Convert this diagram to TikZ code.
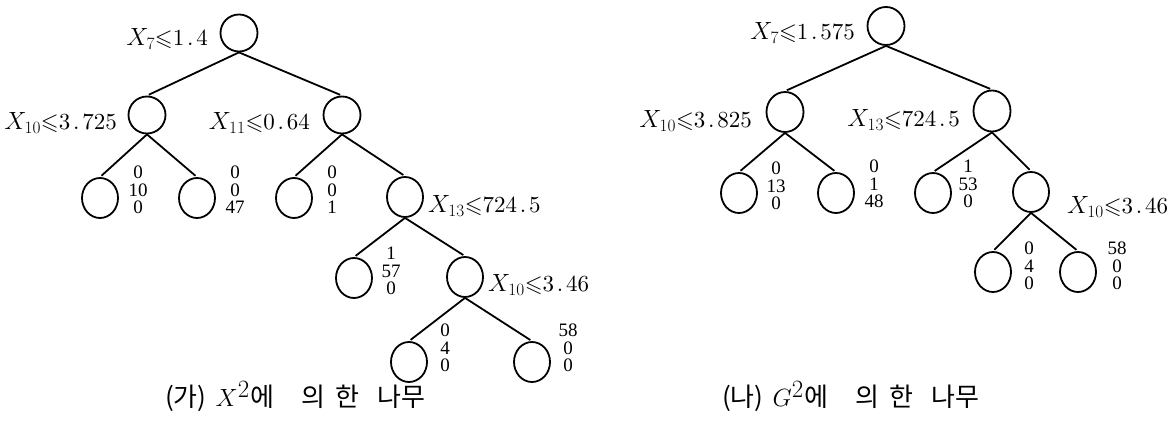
\documentclass[tikz,border=0pt]{standalone}
\usepackage{fontspec}
\usepackage{amssymb}
\newfontfamily\cjk{Noto Sans CJK KR}
\newfontfamily\lmten{lmroman10-regular.otf}
\newfontfamily\numf{Liberation Serif}
\usetikzlibrary{shapes.geometric}
\newcommand\pd{\hspace{0.12em}.\hspace{0.12em}}
\newcommand\cond[2]{$X_{#1}{\leqslant}$#2}
\begin{document}
\begin{tikzpicture}[x=1pt,y=-1pt,
  nd/.style={draw, ellipse, line width=1.8pt, inner sep=0pt, minimum width=37pt, minimum height=37pt},
  lf/.style={nd, minimum width=36pt, minimum height=40pt},
  edge/.style={line width=1.8pt, shorten >=2pt},
  lab/.style={inner sep=0pt, font=\lmten\fontsize{23}{23}\selectfont},
  cnt/.style={inner sep=0pt, align=center, font=\numf\fontsize{19}{17.5}\selectfont},
  captxt/.style={inner sep=0pt, anchor=west, font=\fontsize{26}{26}\selectfont}]
\useasboundingbox (0,0) rectangle (1175,435);
% ---------- left tree ----------
\node[nd] (r1) at (239,33) {};
\node[nd] (a1) at (147,115) {};
\node[nd] (b1) at (342,115) {};
\node[lf] (l11) at (100,198) {};
\node[lf] (l12) at (197,198) {};
\node[lf] (l13) at (294,198) {};
\node[lf] (c1) at (405,197) {};
\node[lf] (l14) at (354,278) {};
\node[lf] (d1) at (465,277) {};
\node[lf] (l15) at (409,362) {};
\node[lf] (l16) at (532,362) {};
\draw[edge] (r1.south) -- (a1.north);
\draw[edge] (r1.south) -- (b1.north);
\draw[edge] (a1.south) -- (l11.north);
\draw[edge] (a1.south) -- (l12.north);
\draw[edge] (b1.south) -- (l13.north);
\draw[edge] (b1.south) -- (c1.north);
\draw[edge] (c1.south) -- (l14.north);
\draw[edge] (c1.south) -- (d1.north);
\draw[edge] (d1.south) -- (l15.north);
\draw[edge] (d1.south) -- (l16.north);
\node[lab, anchor=east] (t1) at (208,39) {\cond{7}{1\pd4}};
\node[lab, anchor=east] (t2) at (117,123) {\cond{10}{3\pd725}};
\node[lab, anchor=east] (t3) at (310,123) {\cond{11}{0\pd64}};
\node[lab, anchor=west] (t4) at (428,206) {\cond{13}{724\pd5}};
\node[lab, anchor=west] (t5) at (488,285) {\cond{10}{3\pd46}};
\node[cnt] (n11) at (138,190) {0\\10\\0};
\node[cnt] (n12) at (235,190) {0\\0\\47};
\node[cnt] (n13) at (332,190) {0\\0\\1};
\node[cnt] (n14) at (391,271) {1\\57\\0};
\node[cnt] (n15) at (445,348) {0\\4\\0};
\node[cnt] (n16) at (568,348) {58\\0\\0};
\node[captxt] (capA) at (165,397) {{\cjk (가)}\hspace{9pt}{\fontsize{34}{34}\selectfont$X^{2}$}\hspace{1pt}{\cjk 에}\hspace{27pt}{\cjk 의\hspace{10pt}한}\hspace{18pt}{\cjk 나무}};
% ---------- right tree ----------
\node[nd, minimum height=38pt] (r2) at (886,26) {};
\node[nd, minimum height=40pt] (a2) at (785,112) {};
\node[nd, minimum height=41pt] (b2) at (992,111) {};
\node[lf] (l21) at (739,193) {};
\node[lf] (l22) at (836,193) {};
\node[lf] (l23) at (933,193) {};
\node[lf] (c2) at (1031,192) {};
\node[lf] (l24) at (993,272) {};
\node[lf] (l25) at (1078,272) {};
\draw[edge] (r2.south) -- (a2.north);
\draw[edge] (r2.south) -- (b2.north);
\draw[edge] (a2.south) -- (l21.north);
\draw[edge] (a2.south) -- (l22.north);
\draw[edge] (b2.south) -- (l23.north);
\draw[edge] (b2.south) -- (c2.north);
\draw[edge] (c2.south) -- (l24.north);
\draw[edge] (c2.south) -- (l25.north);
\node[lab, anchor=east] (s1) at (855,33) {\cond{7}{1\pd575}};
\node[lab, anchor=east] (s2) at (752,121) {\cond{10}{3\pd825}};
\node[lab, anchor=east] (s3) at (960,120) {\cond{13}{724\pd5}};
\node[lab, anchor=west] (s4) at (1067,207) {\cond{10}{3\pd46}};
\node[cnt] (m21) at (776,186) {0\\13\\0};
\node[cnt] (m22) at (874,184) {0\\1\\48};
\node[cnt] (m23) at (968,184) {1\\53\\0};
\node[cnt] (m24) at (1029,266) {0\\4\\0};
\node[cnt] (m25) at (1117,266) {58\\0\\0};
\node[captxt] (capB) at (722,397) {{\cjk (나)}\hspace{9pt}{\fontsize{34}{34}\selectfont$G^{2}$}\hspace{1pt}{\cjk 에}\hspace{27pt}{\cjk 의\hspace{10pt}한}\hspace{18pt}{\cjk 나무}};
\end{tikzpicture}
\end{document}
